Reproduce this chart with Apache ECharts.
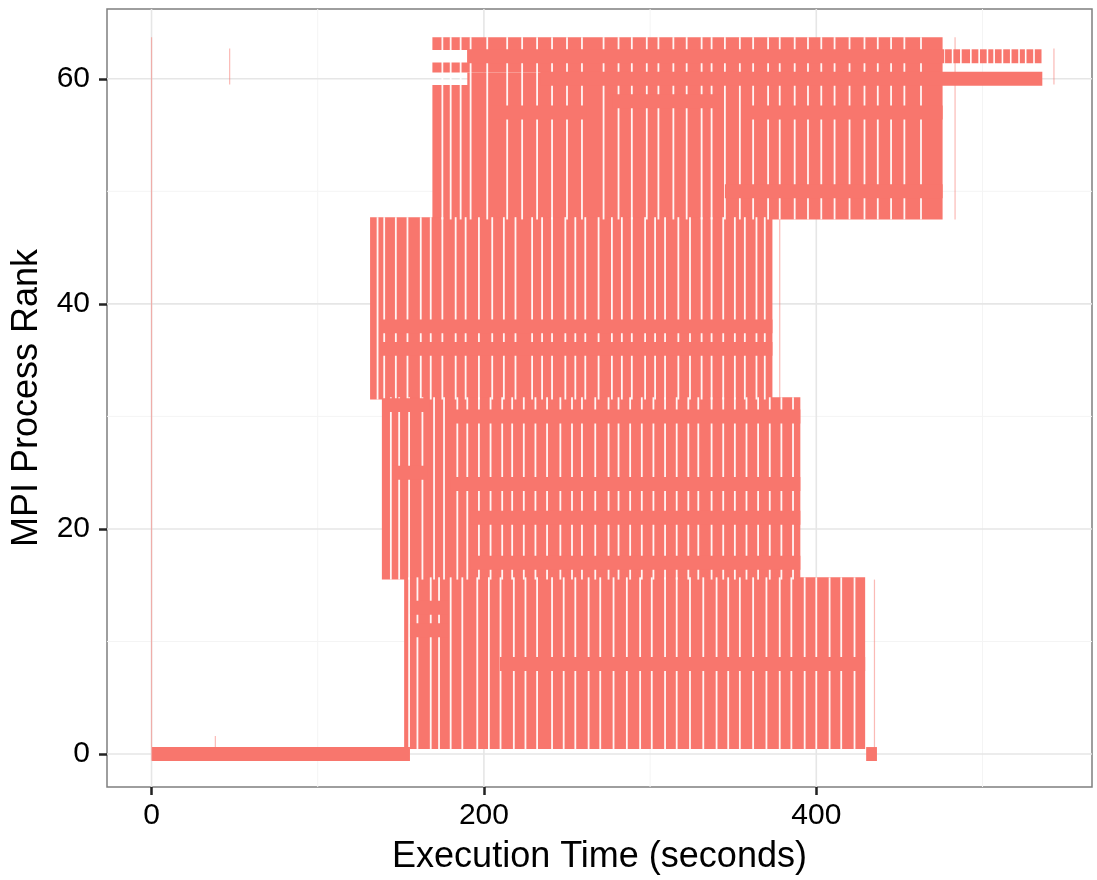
<!DOCTYPE html>
<html>
<head>
<meta charset="utf-8">
<script src="https://cdn.jsdelivr.net/npm/echarts@6/dist/echarts.min.js"></script>
<style>
  html, body { margin: 0; padding: 0; background: #fff; }
  #main { width: 1097px; height: 880px; }
</style>
</head>
<body>
<div id="main"></div>
<script>
// iteration boundaries (white gaps) of each group of 16 ranks, in seconds
var gapsA = [175,180,186,192,202,214,223,232,241,250,259,272,281,289,298,305,314,322,331,337,345,354,362,371,378,387,395,403,411,420,429,437,445,453,463];
var gapsB = [136,140,147,154,162,168,175,183,189,197,205,212,219,229,235,241,249,255,261,269,277,283,289,297,303,309,317,324,331,337,344,351,357,364,369];
var gapsC = [144,149,155,163,170,176,184,190,197,204,211,217,224,231,238,246,253,259,267,275,281,288,295,302,309,316,323,329,337,344,351,358,365,372,379,386];
var gapsD = [155,160,168,173,180,187,196,203,210,218,225,232,241,248,255,263,270,278,286,294,301,309,316,324,332,340,347,354,362,370,378,385,393,400,408,415,423];

// busy blocks: [tStart, tEnd, rankLow, rankHigh]
var blocks = [
  [169, 476, 47.5, 59.45],
  [169, 476, 60.55, 61.45],
  [169, 476, 62.55, 63.7],
  [190, 476, 59.45, 60.55],
  [190, 476, 61.45, 62.55],
  [131.5, 373.6, 31.5, 47.7],
  [138.6, 390.4, 15.5, 31.7],
  [152, 429.4, 0.45, 15.7]
];
// rank range each gap list cuts through
var gapRanges = [[47.5, 63.7], [31.5, 47.7], [15.5, 31.7], [0.45, 15.7]];

// long single-rank states: [rank, tStart, tEnd]
var bars = [
  [0, 0.3, 155.5], [0, 430, 436.5], [8, 209.6, 429.4], [11, 155.5, 178.4], [13, 155.5, 178.4],
  [17, 191.9, 390.4], [21, 191.9, 390.4], [24, 179.6, 390.4], [25, 145, 166], [30, 177.7, 390.4],
  [31, 139, 167], [36, 138.4, 373.6], [38, 138.4, 373.6], [50, 345, 476], [57, 203.6, 262],
  [57, 355.5, 476], [58, 277.5, 343.5], [60, 234, 536], [62, 190, 477]
];
// rank 62 tail, broken into short pieces
var tail62 = [477, 482, 487, 493, 498, 503, 507, 512, 517, 522, 526, 531, 536];
// faint single events: [t, rankLow, rankHigh]
var faint = [[0, -0.6, 63.7], [47, 59.5, 62.7], [38.4, 0.6, 1.6], [483.5, 47.5, 63.7], [543, 59.5, 62.7], [435, 0.5, 15.5], [378, 31.5, 47.7]];

var xTicks = [0, 200, 400];
var xMinor = [100, 300, 500];
var yTicks = [0, 20, 40, 60];
var yMinor = [10, 30, 50];

var myChart = echarts.init(document.getElementById('main'));
var col = '#F8766D';

function rect(api, t0, t1, r0, r1, fill) {
  var a = api.coord([t0, r1]);
  var b = api.coord([t1, r0]);
  return { type: 'rect', shape: { x: a[0], y: a[1], width: b[0] - a[0], height: b[1] - a[1] }, style: { fill: fill } };
}
function vline(api, t, r0, r1, w, fill) {
  var a = api.coord([t, r1]);
  var b = api.coord([t, r0]);
  return { type: 'rect', shape: { x: a[0] - w / 2, y: a[1], width: w, height: b[1] - a[1] }, style: { fill: fill } };
}
function gridSeries(vals, isX, color, width) {
  return {
    type: 'custom', z: 1, silent: true, clip: true, data: vals,
    renderItem: function (p, api) {
      var cs = p.coordSys;
      var c = api.coord(isX ? [api.value(0), 0] : [0, api.value(0)]);
      var shape = isX ? { x1: c[0], y1: cs.y, x2: c[0], y2: cs.y + cs.height }
                      : { x1: cs.x, y1: c[1], x2: cs.x + cs.width, y2: c[1] };
      return { type: 'line', shape: shape, style: { stroke: color, lineWidth: width } };
    }
  };
}

var gapData = [];
[gapsA, gapsB, gapsC, gapsD].forEach(function (g, i) {
  g.forEach(function (t) { gapData.push([t, gapRanges[i][0], gapRanges[i][1]]); });
});
var tailData = [];
for (var i = 0; i < tail62.length - 1; i++) tailData.push([tail62[i], tail62[i + 1]]);

var font = 'Liberation Sans, Arial, Helvetica, sans-serif';
var option = {
  animation: false,
  backgroundColor: '#fff',
  grid: { left: 107, right: 5, top: 9, bottom: 92, show: true, borderColor: '#7F7F7F', borderWidth: 1.5, backgroundColor: 'transparent' },
  xAxis: {
    type: 'value', min: -26.8, max: 565.9,
    name: 'Execution Time (seconds)', nameLocation: 'middle', nameGap: 52,
    nameTextStyle: { fontSize: 36, color: '#000', fontFamily: font },
    axisLine: { show: false, onZero: false },
    axisTick: { show: true, customValues: xTicks, length: 8, lineStyle: { color: '#222', width: 2.5 } },
    axisLabel: { customValues: xTicks, fontSize: 30, color: '#000', fontFamily: font, margin: 14 },
    splitLine: { show: false }
  },
  yAxis: {
    type: 'value', min: -2.93, max: 66.2,
    name: 'MPI Process Rank', nameLocation: 'middle', nameGap: 62,
    nameTextStyle: { fontSize: 36, color: '#000', fontFamily: font },
    axisLine: { show: false, onZero: false },
    axisTick: { show: true, customValues: yTicks, length: 8, lineStyle: { color: '#222', width: 2.5 } },
    axisLabel: { customValues: yTicks, fontSize: 30, color: '#000', fontFamily: font, margin: 17 },
    splitLine: { show: false }
  },
  series: [
    gridSeries(xMinor, true, '#F4F4F4', 1),
    gridSeries(yMinor, false, '#F4F4F4', 1),
    gridSeries(xTicks, true, '#E6E6E6', 1.6),
    gridSeries(yTicks, false, '#E6E6E6', 1.6),
    {
      type: 'custom', z: 2, silent: true, data: faint,
      renderItem: function (p, api) { return vline(api, api.value(0), api.value(1), api.value(2), 1.2, 'rgba(248,118,109,0.5)'); }
    },
    {
      type: 'custom', z: 3, silent: true, data: blocks,
      renderItem: function (p, api) { return rect(api, api.value(0), api.value(1), api.value(2), api.value(3), col); }
    },
    {
      type: 'custom', z: 4, silent: true, data: gapData,
      renderItem: function (p, api) { return vline(api, api.value(0), api.value(1), api.value(2), 1.8, 'rgba(255,255,255,0.92)'); }
    },
    {
      type: 'custom', z: 5, silent: true, data: bars,
      renderItem: function (p, api) { var r = api.value(0); return rect(api, api.value(1), api.value(2), r - 0.62, r + 0.62, col); }
    },
    {
      type: 'custom', z: 5, silent: true, data: tailData,
      renderItem: function (p, api) {
        var a = api.coord([api.value(0), 62.62]);
        var b = api.coord([api.value(1), 61.38]);
        return { type: 'rect', shape: { x: a[0] + 0.8, y: a[1], width: b[0] - a[0] - 1.6, height: b[1] - a[1] }, style: { fill: col } };
      }
    }
  ]
};
myChart.setOption(option);
</script>
</body>
</html>
